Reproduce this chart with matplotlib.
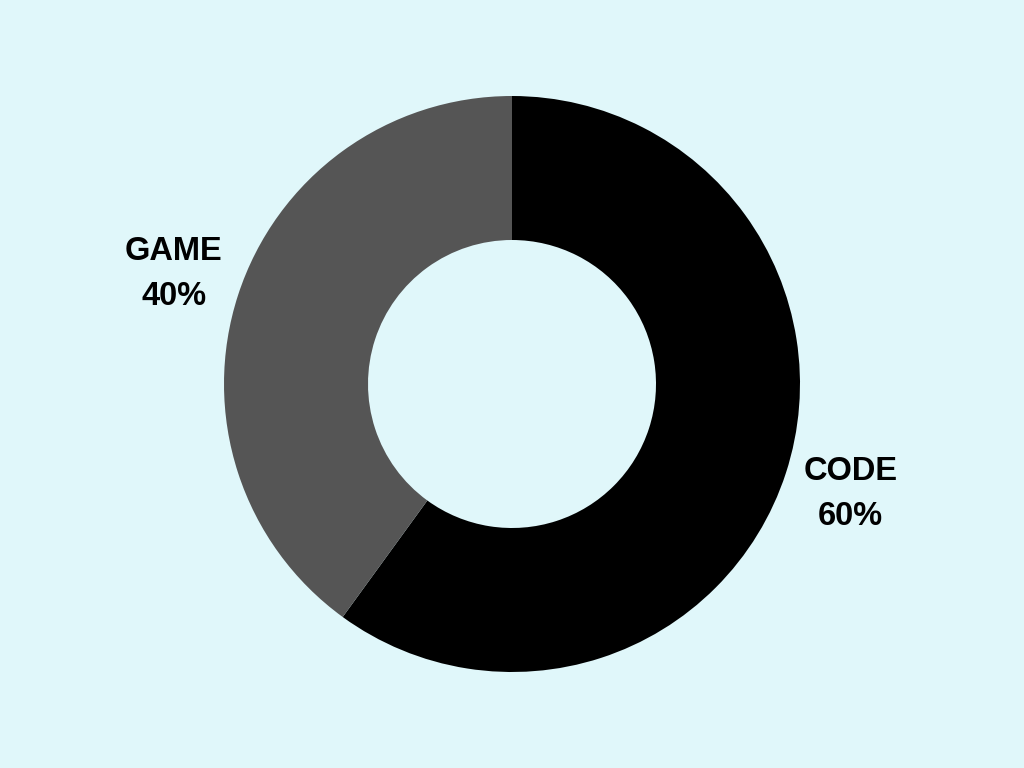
import matplotlib
matplotlib.use("Agg")
import matplotlib.pyplot as plt

labels = ["CODE", "GAME"]
values = [60, 40]
colors = ["#000000", "#555555"]
bg = "#e0f7fa"

fig = plt.figure(figsize=(10.24, 7.68), dpi=100, facecolor=bg)
ax = fig.add_axes([0, 0, 1, 1])
ax.set_facecolor(bg)
wedges, texts = ax.pie(values, colors=colors, startangle=90, counterclock=False,
                       radius=1.0, wedgeprops=dict(width=0.5, edgecolor="none"),
                       labels=[f"{l}\n{v}%" for l, v in zip(labels, values)],
                       labeldistance=1.235,
                       textprops=dict(fontsize=23.5, fontweight="bold", family="Liberation Sans",
                                      color="#000000", ha="center", va="center", linespacing=1.56))
for t in texts:
    t.set_ha("center")
    t.set_va("center")
r = 288.0
ax.set_xlim(-512 / r, 512 / r)
ax.set_ylim(-384 / r, 384 / r)
ax.set_aspect("equal")
ax.axis("off")
fig.savefig("out.png", dpi=100, facecolor=bg)
